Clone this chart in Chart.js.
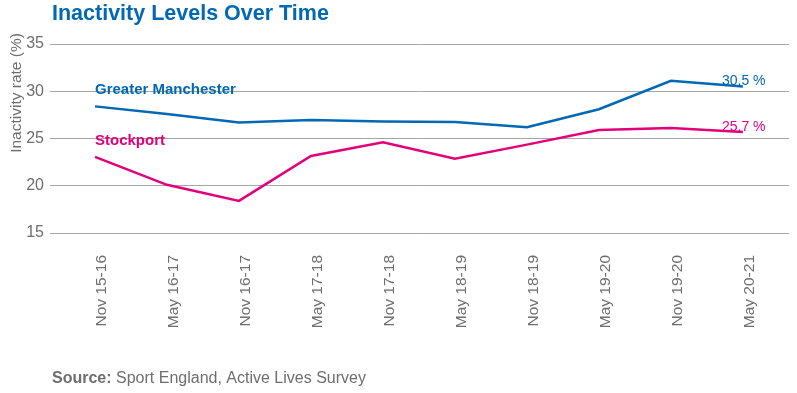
<!DOCTYPE html>
<html>
<head>
<meta charset="utf-8">
<script src="https://cdn.jsdelivr.net/npm/chart.js@4"></script>
<style>
  html, body { margin: 0; padding: 0; background: #ffffff; }
  #wrap { width: 797px; height: 393px; position: relative; }
</style>
</head>
<body>
<div id="wrap"><canvas id="c" width="797" height="393"></canvas></div>
<script>
const categories = ["Nov 15-16", "May 16-17", "Nov 16-17", "May 17-18", "Nov 17-18", "May 18-19", "Nov 18-19", "May 19-20", "Nov 19-20", "May 20-21"];
const greaterManchester = [28.4, 27.6, 26.7, 26.95, 26.8, 26.75, 26.2, 28.1, 31.1, 30.5];
const stockport = [23.05, 20.1, 18.4, 23.15, 24.6, 22.85, 24.35, 25.9, 26.1, 25.7];
const yTicks = [15, 20, 25, 30, 35];
const seriesNames = ["Greater Manchester", "Stockport"];
const endLabels = ["30.5 %", "25.7 %"];
const titleText = "Inactivity Levels Over Time";
const yAxisTitle = "Inactivity rate (%)";

const BLUE = "#0068b4";
const PINK = "#e2007a";
const GREY = "#6e6e6e";
const FONT = "'Liberation Sans', Arial, sans-serif";

const toPoints = arr => arr.map((v, i) => ({ x: i, y: v }));

const annotations = {
  id: "annotations",
  afterDraw(chart) {
    const ctx = chart.ctx;
    const xs = chart.scales.x, ys = chart.scales.y;
    ctx.save();
    // Title
    ctx.fillStyle = BLUE;
    ctx.font = "bold 21.5px " + FONT;
    ctx.textAlign = "left";
    ctx.textBaseline = "alphabetic";
    ctx.fillText(titleText, 52, 20);
    // Y axis title
    ctx.save();
    ctx.translate(21, 93);
    ctx.rotate(-Math.PI / 2);
    ctx.fillStyle = GREY;
    ctx.font = "15.5px " + FONT;
    ctx.textAlign = "center";
    ctx.textBaseline = "alphabetic";
    ctx.fillText(yAxisTitle, 0, 0);
    ctx.restore();
    // Series labels
    ctx.font = "bold 15px " + FONT;
    ctx.textAlign = "left";
    ctx.fillStyle = BLUE;
    ctx.fillText(seriesNames[0], xs.getPixelForValue(0), ys.getPixelForValue(greaterManchester[0]) - 12);
    ctx.fillStyle = PINK;
    ctx.fillText(seriesNames[1], xs.getPixelForValue(0), ys.getPixelForValue(stockport[0]) - 12);
    // End labels
    const last = categories.length - 1;
    ctx.font = "14px " + FONT;
    ctx.fillStyle = BLUE;
    ctx.fillText(endLabels[0], xs.getPixelForValue(last) - 21, ys.getPixelForValue(greaterManchester[last]) - 2);
    ctx.fillStyle = PINK;
    ctx.fillText(endLabels[1], xs.getPixelForValue(last) - 21, ys.getPixelForValue(stockport[last]) - 1);
    // Source
    ctx.fillStyle = GREY;
    ctx.font = "bold 16px " + FONT;
    const s1 = "Source:";
    ctx.fillText(s1, 52, 383);
    const w = ctx.measureText(s1 + " ").width;
    ctx.font = "16px " + FONT;
    ctx.fillText("Sport England, Active Lives Survey", 52 + w, 383);
    ctx.restore();
  }
};

new Chart(document.getElementById("c"), {
  type: "line",
  data: {
    datasets: [
      { label: seriesNames[0], data: toPoints(greaterManchester), borderColor: BLUE, borderWidth: 2.5, pointRadius: 0, tension: 0, fill: false },
      { label: seriesNames[1], data: toPoints(stockport), borderColor: PINK, borderWidth: 2.5, pointRadius: 0, tension: 0, fill: false }
    ]
  },
  options: {
    responsive: false,
    animation: false,
    devicePixelRatio: 1,
    layout: { padding: { left: 0, top: 44, right: 8, bottom: 0 } },
    plugins: { legend: { display: false }, tooltip: { enabled: false }, title: { display: false } },
    scales: {
      x: {
        type: "linear",
        min: -0.625,
        max: 9.64,
        afterBuildTicks(scale) { scale.ticks = categories.map((c, i) => ({ value: i })); },
        afterFit(scale) { scale.height = 160; },
        grid: { display: false, drawTicks: false },
        border: { display: false },
        ticks: {
          autoSkip: false,
          minRotation: 90,
          maxRotation: 90,
          padding: 22,
          labelOffset: 7,
          color: GREY,
          font: { family: FONT, size: 15.5 },
          callback: (v) => categories[v]
        }
      },
      y: {
        min: 15,
        max: 35,
        afterBuildTicks(scale) { scale.ticks = yTicks.map(v => ({ value: v })); },
        afterFit(scale) { scale.width = 50; },
        grid: { color: "#a6a6a6", lineWidth: 1, drawTicks: false },
        border: { display: false },
        ticks: {
          padding: 6,
          color: GREY,
          font: { family: FONT, size: 16 }
        }
      }
    }
  },
  plugins: [annotations]
});
</script>
</body>
</html>
